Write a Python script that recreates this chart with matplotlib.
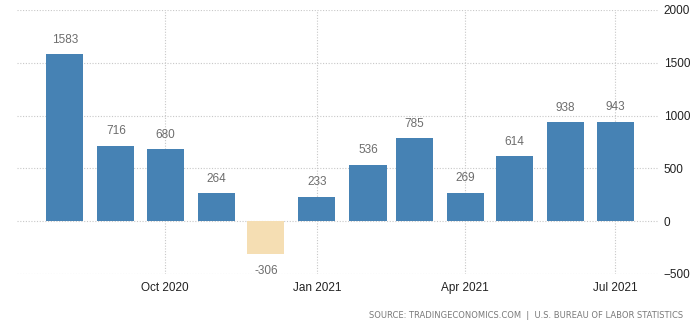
import matplotlib
matplotlib.use("Agg")
import matplotlib.pyplot as plt
import matplotlib.dates as mdates
import numpy as np
import pandas as pd

months = ["2020-08-01", "2020-09-01", "2020-10-01", "2020-11-01", "2020-12-01", "2021-01-01",
          "2021-02-01", "2021-03-01", "2021-04-01", "2021-05-01", "2021-06-01", "2021-07-01"]
values = [1583, 716, 680, 264, -306, 233, 536, 785, 269, 614, 938, 943]
xtick_dates = ["2020-10-01", "2021-01-01", "2021-04-01", "2021-07-01"]
xtick_labels = ["Oct 2020", "Jan 2021", "Apr 2021", "Jul 2021"]
yticks = [-500, 0, 500, 1000, 1500, 2000]
source = "SOURCE: TRADINGECONOMICS.COM  |  U.S. BUREAU OF LABOR STATISTICS"

plt.rcParams['font.family'] = ['Liberation Sans', 'DejaVu Sans']

fig = plt.figure(figsize=(6.95, 3.22), dpi=100)
ax = fig.add_axes([17/695, 1 - 274/322, (658 - 17)/695, (274 - 10)/322])

x = mdates.date2num(pd.to_datetime(months))
colors = ["#4682B4" if v >= 0 else "#F5DEB3" for v in values]
ax.bar(x, values, width=22.5, color=colors, zorder=2)

for xi, v in zip(x, values):
    if v >= 0:
        ax.annotate(str(v), (xi, v), xytext=(0, 6), textcoords="offset points",
                    ha="center", va="bottom", fontsize=8.5, color="#6d6d6d")
    else:
        ax.annotate(str(v), (xi, v), xytext=(0, -8), textcoords="offset points",
                    ha="center", va="top", fontsize=8.5, color="#6d6d6d")

ax.set_xlim(mdates.date2num(pd.Timestamp("2020-07-03")), mdates.date2num(pd.Timestamp("2021-07-27")))
ax.set_ylim(-500, 2000)

ax.set_xticks(mdates.date2num(pd.to_datetime(xtick_dates)))
ax.set_xticklabels(xtick_labels)
ax.set_yticks(yticks)
ax.yaxis.tick_right()
ax.tick_params(axis="both", length=0, labelsize=8.5, colors="#222222")
ax.tick_params(axis="y", pad=4)
ax.tick_params(axis="x", pad=6)

ax.grid(True, linestyle=(0, (1, 1.5)), color="#c8c8c8", linewidth=0.8, zorder=0)
for s in ax.spines.values():
    s.set_visible(False)

fig.text(683/695, 1 - 315/322, source, ha="right", va="center", fontsize=6,
         color="#7a7a7a", family="DejaVu Sans")

fig.savefig("out.png", dpi=100)
